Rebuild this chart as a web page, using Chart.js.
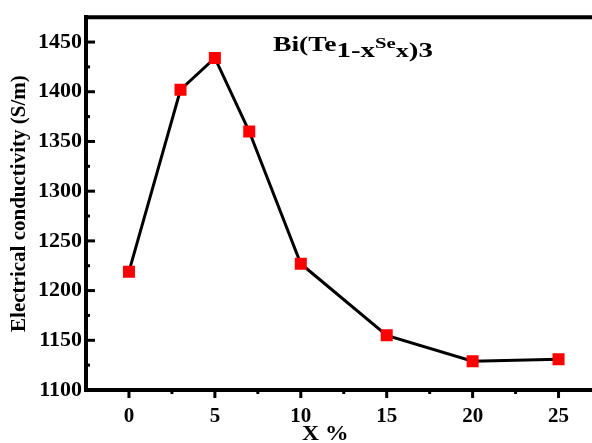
<!DOCTYPE html>
<html>
<head>
<meta charset="utf-8">
<script src="https://cdn.jsdelivr.net/npm/chart.js@4"></script>
<style>
  html, body { margin: 0; padding: 0; background: #fff; overflow: hidden; }
  #wrap { width: 592px; height: 443px; overflow: hidden; position: relative; }
  #box { width: 610px; height: 443px; position: absolute; left: 0; top: 0; }
</style>
</head>
<body>
<div id="wrap"><div id="box"><canvas id="conductivityChart"></canvas></div></div>
<script>
const xPercent = [0, 3, 5, 7, 10, 15, 20, 25];
const conductivity = [1219, 1402, 1434, 1360, 1227, 1155, 1129, 1131];
const xTickValues = [0, 5, 10, 15, 20, 25];
const yTickValues = [1100, 1150, 1200, 1250, 1300, 1350, 1400, 1450];

const serif = "'Liberation Serif', 'Times New Roman', serif";

// the source figure is stretched sideways, so its free text is too
function stretchedText(ctx, parts, x, stretch) {
    let px = x;
    parts.forEach(p => {
        ctx.save();
        ctx.font = 'bold ' + p.size + 'px ' + serif;
        ctx.translate(px, p.y);
        ctx.scale(stretch, 1);
        ctx.fillText(p.t, 0, 0);
        px += ctx.measureText(p.t).width * stretch;
        ctx.restore();
    });
}

// Origin-style frame: inward y ticks, outward x ticks, top border, labels
const framePlugin = {
    id: 'frame',
    afterDraw(chart) {
        const ctx = chart.ctx;
        const area = chart.chartArea;
        const xs = chart.scales.x;
        const ys = chart.scales.y;
        ctx.save();
        ctx.strokeStyle = '#000';
        ctx.lineWidth = 4;
        ctx.beginPath();
        ctx.moveTo(area.left - 2, area.top);
        ctx.lineTo(area.right + 2, area.top);
        ctx.stroke();

        ctx.lineWidth = 3;
        for (let v = ys.min; v < ys.max; v += 25) {
            const y = ys.getPixelForValue(v);
            const len = (v % 50 === 0) ? 9 : 4;
            ctx.beginPath();
            ctx.moveTo(area.left, y);
            ctx.lineTo(area.left + len, y);
            ctx.stroke();
        }
        for (let v = 0; v < xs.max; v += 2.5) {
            const x = xs.getPixelForValue(v);
            const len = (v % 5 === 0) ? 8 : 4;
            ctx.beginPath();
            ctx.moveTo(x, area.bottom);
            ctx.lineTo(x, area.bottom + len);
            ctx.stroke();
        }

        ctx.fillStyle = '#000';
        ctx.textBaseline = 'alphabetic';
        ctx.textAlign = 'left';
        stretchedText(ctx, [
            { t: 'Bi(Te', size: 20, y: 51 },
            { t: '1-x', size: 21, y: 57 },
            { t: 'Se', size: 15, y: 48 },
            { t: 'x', size: 19, y: 57 },
            { t: ')3', size: 21, y: 57 }
        ], 273, 1.38);
        stretchedText(ctx, [{ t: 'X %', size: 20, y: 440 }], 302, 1.18);
        ctx.restore();
    }
};

const ctx = document.getElementById('conductivityChart').getContext('2d');
new Chart(ctx, {
    type: 'line',
    data: {
        datasets: [{
            data: xPercent.map((x, i) => ({ x: x, y: conductivity[i] })),
            borderColor: '#000',
            borderWidth: 3,
            pointStyle: 'rect',
            pointRadius: 8.5,
            pointHoverRadius: 8.5,
            pointBackgroundColor: '#ff0000',
            pointBorderColor: '#ff0000',
            pointBorderWidth: 0,
            tension: 0
        }]
    },
    options: {
        responsive: true,
        maintainAspectRatio: false,
        animation: false,
        events: [],
        layout: { padding: { top: 14, right: 8, left: 0, bottom: 0 } },
        plugins: {
            legend: { display: false },
            tooltip: { enabled: false }
        },
        scales: {
            x: {
                type: 'linear',
                min: -2.5,
                max: 27.5,
                afterBuildTicks: s => { s.ticks = xTickValues.map(v => ({ value: v })); },
                afterFit: s => { s.height = 53; },
                grid: { display: false, drawTicks: false },
                border: { display: true, color: '#000', width: 4 },
                ticks: {
                    color: '#000',
                    padding: 14,
                    maxRotation: 0,
                    callback: v => String(v),
                    font: { family: serif, size: 21, weight: 'bold' }
                },
                title: { display: false }
            },
            y: {
                type: 'linear',
                min: 1100,
                max: 1475,
                afterBuildTicks: s => { s.ticks = yTickValues.map(v => ({ value: v })); },
                afterFit: s => { s.width = 86; },
                grid: { display: false, drawTicks: false },
                border: { display: true, color: '#000', width: 4 },
                ticks: {
                    color: '#000',
                    padding: 4,
                    callback: v => String(v),
                    font: { family: serif, size: 22, weight: 'bold' }
                },
                title: {
                    display: true,
                    text: 'Electrical conductivity (S/m)',
                    color: '#000',
                    padding: { top: 7, bottom: 0 },
                    font: { family: serif, size: 21, weight: 'bold' }
                }
            }
        }
    },
    plugins: [framePlugin]
});
</script>
</body>
</html>
